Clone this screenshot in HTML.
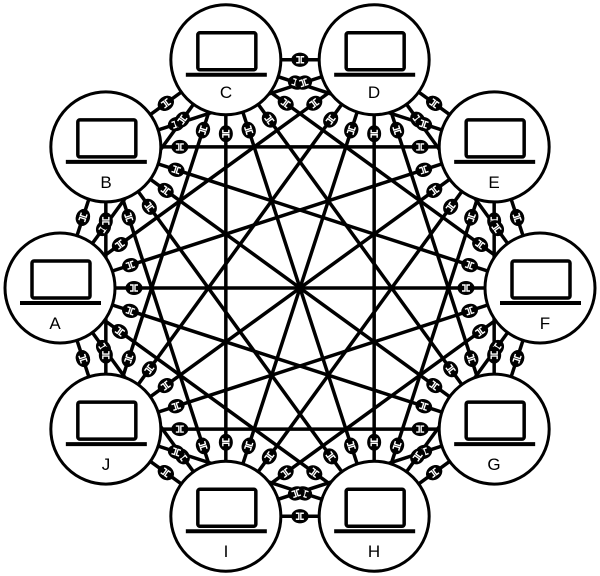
<!DOCTYPE html>
<html><head><style>body{margin:0;background:#fff}svg{display:block}</style></head>
<body>
<svg id="s" width="600" height="576" viewBox="0 0 600 576" xmlns="http://www.w3.org/2000/svg">
<g id="edges" stroke="#000" stroke-width="3.5"></g>
<g id="plugs"></g>
<g id="nodes"></g>
<g font-family="Liberation Sans, sans-serif" font-size="17" text-anchor="middle" fill="#000">
<text x="55" y="329">A</text>
<text x="106" y="188">B</text>
<text x="226" y="98">C</text>
<text x="374" y="98">D</text>
<text x="494" y="188">E</text>
<text x="545" y="329">F</text>
<text x="494" y="470">G</text>
<text x="374" y="557">H</text>
<text x="226" y="557">I</text>
<text x="106" y="470">J</text>
</g>
</svg>
<script>
var NS="http://www.w3.org/2000/svg",cx=300,cy=288,R=240,P=[];
for(var i=0;i<10;i++){var a=(180+36*i)*Math.PI/180;P.push([cx+R*Math.cos(a),cy+R*Math.sin(a)]);}
function el(t,at,p){var e=document.createElementNS(NS,t);for(var k in at)e.setAttribute(k,at[k]);p.appendChild(e);return e;}
var E=document.getElementById("edges"),PL=document.getElementById("plugs"),N=document.getElementById("nodes");
for(var i=0;i<10;i++)for(var j=i+1;j<10;j++){el("line",{x1:P[i][0],y1:P[i][1],x2:P[j][0],y2:P[j][1]},E);}
for(var i=0;i<10;i++)for(var j=0;j<10;j++){if(i==j)continue;
var dx=P[j][0]-P[i][0],dy=P[j][1]-P[i][1],L=Math.hypot(dx,dy),ux=dx/L,uy=dy/L;
var x=P[i][0]+ux*74,y=P[i][1]+uy*74,ang=Math.atan2(dy,dx)*180/Math.PI;
var g=el("g",{transform:"translate("+x+" "+y+") rotate("+ang+")"},PL);
el("ellipse",{cx:0,cy:0,rx:8.5,ry:7,fill:"#000"},g);
el("path",{d:"M-4 -3 H-1 V3 H-4 M4 -3 H1 V3 H4",stroke:"#fff","stroke-width":1.4,fill:"none"},g);}
for(var i=0;i<10;i++){var x=P[i][0],y=P[i][1];
el("circle",{cx:x,cy:y,r:55,fill:"#fff",stroke:"#000","stroke-width":3},N);
el("rect",{x:x-28,y:y-27,width:58,height:37,rx:2,fill:"none",stroke:"#000","stroke-width":3.5},N);
el("line",{x1:x-40,y1:y+15,x2:x+41,y2:y+15,stroke:"#000","stroke-width":4},N);}
</script>
</body></html>
